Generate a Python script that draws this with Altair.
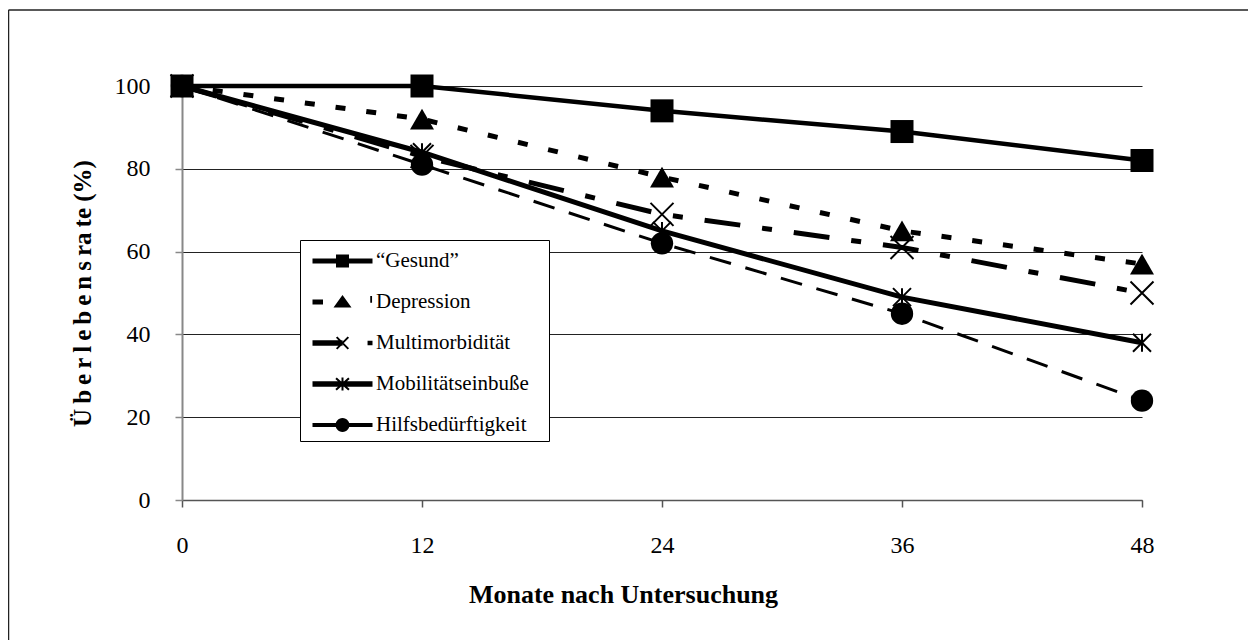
import math
import altair as alt
import pandas as pd

# ---------------- data ----------------
months = [0, 12, 24, 36, 48]
series = ["\u201cGesund\u201d", "Depression", "Multimorbidität", "Mobilitätseinbuße", "Hilfsbedürftigkeit"]
gesund = [100, 100, 94, 89, 82]
depression = [100, 92, 78, 65, 57]
multimorb = [100, 83, 69, 61, 50]
mobil = [100, 84, 65, 49, 38]
hilfs = [100, 81, 62, 45, 24]
x_ticks = [0, 12, 24, 36, 48]
y_ticks = [0, 20, 40, 60, 80, 100]
x_title = "Monate nach Untersuchung"
y_title = "Ü\u2009b\u2009e\u2009r\u2009l\u2009e\u2009b\u2009e\u2009n\u2009s\u2009ra\u2009te  (%)"

values = [gesund, depression, multimorb, mobil, hilfs]
rows = []
for name, vals in zip(series, values):
    for m, v in zip(months, vals):
        rows.append({"series": name, "monat": m, "rate": v})
df = pd.DataFrame(rows)

FONT = "Liberation Serif"

# ---------------- styles ----------------
line_styles = {
    series[0]: dict(width=4.5, dash=None),
    series[1]: dict(width=5, dash=[10, 21]),
    series[2]: dict(width=5, dash=[36, 22, 10, 22]),
    series[3]: dict(width=5, dash=None),
    series[4]: dict(width=3, dash=[22, 15]),
}
XPATH = "M-1,-1L1,1M-1,1L1,-1"
STARPATH = "M-1,-1L1,1M-1,1L1,-1M0,-1L0,1"
point_styles = {
    series[0]: dict(shape="square", size=529, filled=True),
    series[1]: dict(shape="triangle-up", size=576, filled=True),
    series[2]: dict(shape=XPATH, size=529, filled=False),
    series[3]: dict(shape=STARPATH, size=324, filled=False),
    series[4]: dict(shape="circle", size=500, filled=True),
}


# legend symbol paths (unit = sqrt(size)/2 px)
def poly(pts):
    n = len(pts)
    a = sum(pts[i][0] * pts[(i + 1) % n][1] - pts[(i + 1) % n][0] * pts[i][1] for i in range(n))
    if a < 0:
        pts = pts[::-1]
    return "M" + "L".join(f"{x:.3f},{y:.3f}" for x, y in pts) + "Z"


def rect(x1, y1, x2, y2):
    return poly([(x1, y1), (x2, y1), (x2, y2), (x1, y2)])


def seg(x1, y1, x2, y2, w):
    dx, dy = x2 - x1, y2 - y1
    L = math.hypot(dx, dy)
    nx, ny = -dy / L * w, dx / L * w
    return poly([(x1 + nx, y1 + ny), (x2 + nx, y2 + ny), (x2 - nx, y2 - ny), (x1 - nx, y1 - ny)])


def circ(r, n=28):
    return poly([(r * math.cos(2 * math.pi * k / n), r * math.sin(2 * math.pi * k / n)) for k in range(n)])


legend_paths = [
    rect(-2, -0.167, 2, 0.167) + rect(-0.433, -0.433, 0.433, 0.433),
    rect(-2, -0.167, -1.3, 0.167) + poly([(0, -0.47), (0.6, 0.37), (-0.6, 0.37)]) + rect(1.85, -0.4, 1.97, 0.05),
    rect(-2, -0.19, 0, 0.19) + seg(-0.39, -0.39, 0.39, 0.39, 0.067) + seg(-0.39, 0.39, 0.39, -0.39, 0.067)
    + rect(1.67, -0.15, 2.0, 0.15),
    rect(-2, -0.19, 2, 0.19) + seg(-0.43, -0.39, 0.43, 0.39, 0.067) + seg(-0.43, 0.39, 0.43, -0.39, 0.067)
    + seg(0, -0.43, 0, 0.43, 0.067),
    rect(-2, -0.133, 2, 0.133) + circ(0.467),
]

# ---------------- encodings ----------------
W, H = 960, 414
xaxis = alt.Axis(
    values=x_ticks, grid=False, domainColor="#555", domainWidth=1.5, tickColor="#555", tickWidth=1.5,
    tickSize=7, labelFont=FONT, labelFontSize=24, labelColor="black", labelPadding=26,
    labelFlush=False, labelOverlap=False,
    title=x_title, titleFont=FONT, titleFontSize=26, titleFontWeight="bold", titleColor="black",
    titleX=441, titleY=102, titleBaseline="alphabetic", titleAlign="center",
)
yaxis = alt.Axis(
    values=y_ticks, grid=True, gridColor="#222", gridWidth=1, domainColor="#888", domainWidth=2,
    tickColor="#888", tickWidth=1.5, tickSize=7, labelFont=FONT, labelFontSize=24, labelColor="black",
    labelPadding=25, labelOverlap=False,
    title=y_title, titleFont=FONT, titleFontSize=25, titleFontWeight="bold", titleColor="black",
    titleX=-100, titleY=H / 2, titleAngle=270, titleBaseline="middle", titleAlign="center", titleLimit=1000,
)
X = alt.X("monat:Q", scale=alt.Scale(domain=[0, 48], nice=False, zero=False), axis=xaxis)
Y = alt.Y("rate:Q", scale=alt.Scale(domain=[0, 100], nice=False), axis=yaxis)

base = alt.Chart(df)
layers = []
for s in series:
    st = line_styles[s]
    kw = dict(color="black", strokeWidth=st["width"], strokeCap="butt", clip=False)
    if st["dash"]:
        kw["strokeDash"] = st["dash"]
    layers.append(base.transform_filter(alt.datum.series == s).mark_line(**kw).encode(x=X, y=Y))

for s in series:
    st = point_styles[s]
    if st["filled"]:
        m = base.transform_filter(alt.datum.series == s).mark_point(
            shape=st["shape"], size=st["size"], filled=True, color="black", opacity=1, strokeWidth=0)
    else:
        m = base.transform_filter(alt.datum.series == s).mark_point(
            shape=st["shape"], size=st["size"], filled=False, color="black", opacity=1, strokeWidth=2)
    layers.append(m.encode(x=X, y=Y))

legend = alt.Legend(
    orient="none", legendX=118, legendY=154, title=None, symbolSize=900, symbolStrokeWidth=0,
    symbolOffset=21.5, labelOffset=18.5, labelFont=FONT, labelFontSize=21, labelColor="black",
    labelLimit=400, padding=6, rowPadding=16, strokeColor="black", fillColor="white",
    symbolFillColor="black", symbolOpacity=1, labelBaseline="middle",
    labelExpr="datum.label + '\u00a0\u00a0\u2006\u200b'",
)
legend_layer = base.mark_point(size=0, filled=True, color="black").encode(
    x=X, y=Y,
    shape=alt.Shape("series:N", scale=alt.Scale(domain=series, range=legend_paths), legend=legend),
)
layers.append(legend_layer)

frame_df = pd.DataFrame({"a": [0]})
frame_top = alt.Chart(frame_df).mark_rule(color="#222", strokeWidth=1.5).encode(
    x=alt.value(-173.5), x2=alt.value(1080), y=alt.value(-76))
frame_left = alt.Chart(frame_df).mark_rule(color="#222", strokeWidth=1.5).encode(
    x=alt.value(-173.5), y=alt.value(-76), y2=alt.value(560))

chart = alt.layer(frame_top, frame_left, *layers).properties(
    width=W, height=H,
    autosize=alt.AutoSizeParams(type="none"),
    padding={"left": 174, "top": 78, "right": 106, "bottom": 140},
    background="white",
).configure_view(stroke=None)

chart.save("out.html", embed_options={"renderer": "svg", "actions": False})
